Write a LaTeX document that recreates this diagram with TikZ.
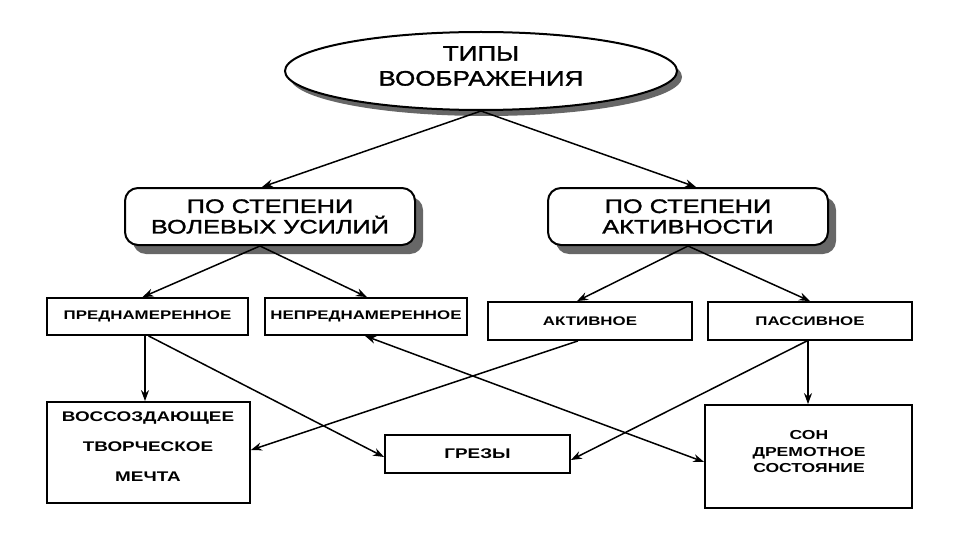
\documentclass[tikz,border=0pt]{standalone}
\usepackage{fontspec}
\setmainfont{Liberation Sans}
\newfontfamily\headfont[FakeStretch=1.24,FakeBold=1.5]{Liberation Sans}
\newfontfamily\midfont[FakeStretch=1.3,FakeBold=1.5]{Liberation Sans}
\newfontfamily\boxfont[FakeStretch=1.35]{Liberation Sans}
\usetikzlibrary{shapes.geometric,shadows,arrows.meta}
\begin{document}
\begin{tikzpicture}[x=1pt,y=-1pt,
  oval/.style={ellipse, draw, line width=2pt, fill=white, inner sep=0pt,
    minimum width=392pt, minimum height=78pt,
    drop shadow={shadow xshift=5pt, shadow yshift=-6pt, fill=black!70, opacity=0.85}},
  headtext/.style={align=center, inner sep=0pt, font=\headfont\fontsize{21}{25}\selectfont},
  roundbox/.style={rectangle, rounded corners=13pt, draw, line width=2pt, fill=white,
    inner sep=0pt, minimum height=57pt, align=center,
    font=\midfont\fontsize{19.5}{20.5}\selectfont,
    drop shadow={shadow xshift=8pt, shadow yshift=-9pt, fill=black!70, opacity=0.85}},
  smallbox/.style={rectangle, draw, line width=1.8pt, fill=white, inner sep=0pt,
    minimum height=38pt, font=\boxfont\bfseries\fontsize{12.5}{14}\selectfont},
  bigbox/.style={rectangle, draw, line width=1.8pt, fill=white, inner sep=0pt},
  boxtext/.style={align=center, inner sep=0pt, font=\boxfont\bfseries\fontsize{14}{30}\selectfont},
  arr/.style={-{Stealth[length=11pt,width=8pt]}, line width=1.5pt},
  dblarr/.style={{Stealth[length=11pt,width=8pt]}-{Stealth[length=11pt,width=8pt]}, line width=1.5pt}
]
\useasboundingbox (0,0) rectangle (960,540);

% top ellipse
\node[oval] (top) at (481,71) {};
\node[headtext] (toptext) at (481,66) {ТИПЫ\\ВООБРАЖЕНИЯ};

% second level
\node[roundbox, minimum width=290pt] (lv) at (270,216.5) {ПО СТЕПЕНИ\\ВОЛЕВЫХ УСИЛИЙ};
\node[roundbox, minimum width=280pt] (ak) at (688,216.5) {ПО СТЕПЕНИ\\АКТИВНОСТИ};

% third level
\node[smallbox, minimum width=201pt, minimum height=37pt] (pre) at (147.5,316.5) {ПРЕДНАМЕРЕННОЕ};
\node[smallbox, minimum width=202pt, minimum height=37pt] (nepre) at (366,316.5) {НЕПРЕДНАМЕРЕННОЕ};
\node[smallbox, minimum width=204pt] (act) at (590,321) {АКТИВНОЕ};
\node[smallbox, minimum width=204pt] (pas) at (810,321) {ПАССИВНОЕ};

% fourth level
\node[bigbox, minimum width=203pt, minimum height=101pt] (vos) at (148.5,452.5) {};
\node[boxtext] (vostext) at (148,447) {ВОССОЗДАЮЩЕЕ\\ТВОРЧЕСКОЕ\\МЕЧТА};
\node[bigbox, minimum width=185pt, minimum height=38pt,
      font=\boxfont\bfseries\fontsize{14}{16}\selectfont] (grez) at (477.5,454) {ГРЕЗЫ};
\node[bigbox, minimum width=207pt, minimum height=103pt] (son) at (808.5,456.5) {};
\node[boxtext, font=\boxfont\bfseries\fontsize{13}{16.5}\selectfont] (sontext) at (809,452) {СОН\\ДРЕМОТНОЕ\\СОСТОЯНИЕ};

% connectors
\draw[arr] (top.south) -- ([xshift=-8pt]lv.north);
\draw[arr] (top.south) -- ([xshift=8pt]ak.north);

\draw[arr] ([xshift=-10pt]lv.south) -- ([xshift=-5pt]pre.north);
\draw[arr] ([xshift=-10pt]lv.south) -- ([xshift=1pt]nepre.north);
\draw[arr] (ak.south) -- ([xshift=-13pt]act.north);
\draw[arr] (ak.south) -- (pas.north);

\draw[arr] ([xshift=-2.5pt]pre.south) -- ([xshift=-2.5pt]pre.south |- vos.north);
\draw[arr] ([xshift=1pt]pre.south) -- ([yshift=-3pt]grez.west);
\draw[arr] ([xshift=-12pt]act.south) -- ([yshift=2.5pt]vos.east);
\draw[arr] ([xshift=-2pt]pas.south) -- ([xshift=-2pt]pas.south |- son.north);
\draw[arr] ([xshift=-3pt]pas.south) -- ([yshift=-6pt]grez.east);
\draw[dblarr] ([xshift=-1pt]nepre.south) -- ([yshift=-5.5pt]son.west);
\end{tikzpicture}
\end{document}
